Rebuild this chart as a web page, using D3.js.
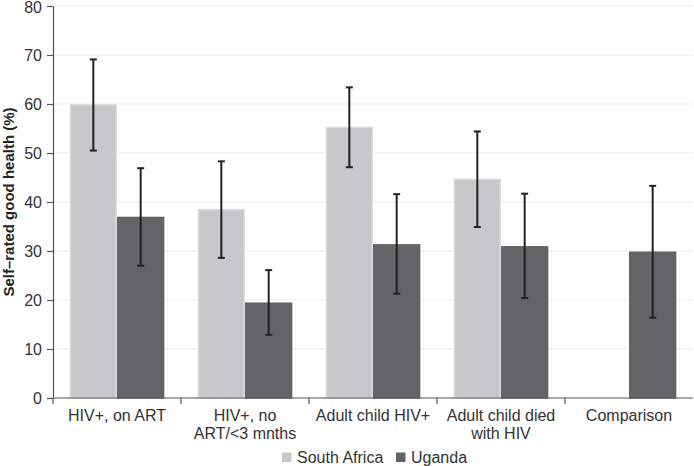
<!DOCTYPE html>
<html><head><meta charset="utf-8">
<script src="https://cdn.jsdelivr.net/npm/d3@7"></script>
<style>body{margin:0;background:#fff}svg{display:block}text{font-family:"Liberation Sans",Arial,sans-serif}</style>
</head><body><svg id="c" width="694" height="466"></svg>
<script>
const categories = ["HIV+, on ART", "HIV+, no\nART/<3 mnths", "Adult child HIV+", "Adult child died\nwith HIV", "Comparison"];
const seriesNames = ["South Africa", "Uganda"];
const southAfrica = [60.0, 38.6, 55.4, 44.8, null];
const southAfricaLow = [50.5, 28.6, 47.1, 34.9, null];
const southAfricaHigh = [69.1, 48.3, 63.4, 54.4, null];
const uganda = [37.0, 19.5, 31.4, 31.0, 29.9];
const ugandaLow = [27.0, 12.9, 21.3, 20.4, 16.4];
const ugandaHigh = [46.9, 26.1, 41.6, 41.7, 43.3];
const yTicks = [0, 10, 20, 30, 40, 50, 60, 70, 80];

const colors = {"South Africa": "#c7c8ca", "Uganda": "#636466"};
const strokes = {"South Africa": "#dcdddf", "Uganda": "#636466"};

const svg = d3.select("#c");
const m = {l: 53, r: 1, t: 6, b: 68};
const W = 694, H = 466;
const FS = 16;
const x0 = d3.scaleBand().domain(categories).range([m.l, W - m.r]).paddingInner(0.26).paddingOuter(0.13);
const x1 = d3.scaleBand().domain(seriesNames).range([0, x0.bandwidth()]);
const y = d3.scaleLinear().domain([0, 80]).range([H - m.b, m.t]);

// gridlines
svg.append("g").selectAll("line").data(yTicks.slice(1)).join("line")
  .attr("x1", m.l).attr("x2", W - m.r).attr("y1", d => y(d)).attr("y2", d => y(d))
  .attr("stroke", "#ededed").attr("stroke-width", 1.2);

const data = [];
categories.forEach((c, i) => {
  data.push({c, s: "South Africa", v: southAfrica[i], lo: southAfricaLow[i], hi: southAfricaHigh[i]});
  data.push({c, s: "Uganda", v: uganda[i], lo: ugandaLow[i], hi: ugandaHigh[i]});
});
const valid = data.filter(d => d.v != null);

svg.append("g").selectAll("rect").data(valid).join("rect")
  .attr("x", d => x0(d.c) + x1(d.s) + 0.75)
  .attr("width", x1.bandwidth() - 1.5)
  .attr("y", d => y(d.v) + 0.75)
  .attr("height", d => y(0) - y(d.v) - 0.75)
  .attr("fill", d => colors[d.s])
  .attr("stroke", d => strokes[d.s]).attr("stroke-width", 1.5);

// error bars
const eb = svg.append("g").attr("stroke", "#222").attr("stroke-width", 2);
valid.forEach(d => {
  const cx = x0(d.c) + x1(d.s) + x1.bandwidth() / 2;
  eb.append("line").attr("x1", cx).attr("x2", cx).attr("y1", y(d.lo)).attr("y2", y(d.hi));
  eb.append("line").attr("x1", cx - 3.5).attr("x2", cx + 3.5).attr("y1", y(d.lo)).attr("y2", y(d.lo));
  eb.append("line").attr("x1", cx - 3.5).attr("x2", cx + 3.5).attr("y1", y(d.hi)).attr("y2", y(d.hi));
});

// y axis
const ya = svg.append("g").attr("transform", `translate(${m.l},0)`)
  .call(d3.axisLeft(y).tickValues(yTicks).tickSize(6).tickPadding(5).tickSizeOuter(0));
ya.select(".domain").attr("stroke", "#555").attr("stroke-width", 1.2);
ya.selectAll(".tick line").attr("stroke", "#555").attr("stroke-width", 1.2);
ya.selectAll("text").attr("font-size", FS).attr("fill", "#333").attr("font-family", "Liberation Sans, Arial, sans-serif")
  .attr("dy", d => d === 80 ? "0.4em" : "0.32em");

// x axis
const xa = svg.append("g").attr("transform", `translate(0,${y(0)})`);
xa.append("line").attr("x1", m.l).attr("x2", W - m.r).attr("stroke", "#555").attr("stroke-width", 1.2);
const step = x0.step();
const bounds = d3.range(categories.length + 1).map(i => x0(categories[0]) - x0.paddingOuter() * step + i * step);
xa.selectAll(".bt").data(bounds.slice(0, categories.length)).join("line")
  .attr("x1", d => d).attr("x2", d => d).attr("y1", 0).attr("y2", 6)
  .attr("stroke", "#555").attr("stroke-width", 1.2);
categories.forEach(c => {
  const cx = x0(c) + x0.bandwidth() / 2;
  const t = xa.append("text").attr("text-anchor", "middle").attr("font-size", FS).attr("fill", "#333");
  c.split("\n").forEach((ln, j) => t.append("tspan").attr("x", cx).attr("y", 23 + j * 18).text(ln));
});

// y title
svg.append("text").attr("transform", `translate(14,${(y(0) + y(80)) / 2}) rotate(-90)`)
  .attr("text-anchor", "middle").attr("font-size", 15).attr("font-weight", "bold").attr("fill", "#222")
  .text("Self–rated good health (%)");

// legend
const lg = svg.append("g");
const legendX = [282, 396];
seriesNames.forEach((s, i) => {
  lg.append("rect").attr("x", legendX[i]).attr("y", 452.5).attr("width", 9.5).attr("height", 9.5).attr("fill", colors[s]);
  lg.append("text").attr("x", legendX[i] + 15).attr("y", 463).attr("font-size", FS).attr("fill", "#333").text(s);
});
</script></body></html>
